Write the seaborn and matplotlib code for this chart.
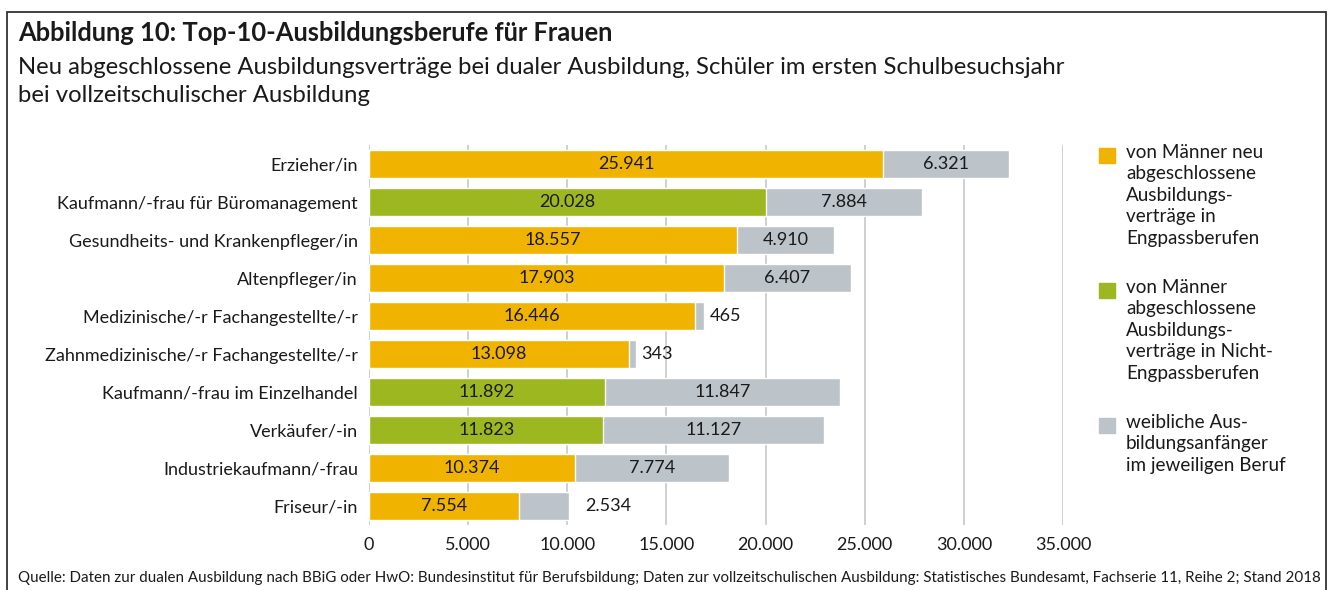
import pandas as pd
import seaborn as sns
import matplotlib.pyplot as plt
from matplotlib.patches import Rectangle

berufe = ["Erzieher/in", "Kaufmann/-frau für Büromanagement",
          "Gesundheits- und Krankenpfleger/in", "Altenpfleger/in",
          "Medizinische/-r Fachangestellte/-r", "Zahnmedizinische/-r Fachangestellte/-r",
          "Kaufmann/-frau im Einzelhandel", "Verkäufer/-in",
          "Industriekaufmann/-frau", "Friseur/-in"]
maenner = [25941, 20028, 18557, 17903, 16446, 13098, 11892, 11823, 10374, 7554]
frauen = [6321, 7884, 4910, 6407, 465, 343, 11847, 11127, 7774, 2534]
typ = ["Engpass", "Nicht-Engpass", "Engpass", "Engpass", "Engpass",
       "Engpass", "Nicht-Engpass", "Nicht-Engpass", "Engpass", "Engpass"]
legende = ["von Männer neu\nabgeschlossene\nAusbildungs-\nverträge in\nEngpassberufen",
           "von Männer\nabgeschlossene\nAusbildungs-\nverträge in Nicht-\nEngpassberufen",
           "weibliche Aus-\nbildungsanfänger\nim jeweiligen Beruf"]
ticks = [0, 5000, 10000, 15000, 20000, 25000, 30000, 35000]

orange = "#F0B400"
gruen = "#9CB71F"
grau = "#BCC3C9"
txt = "#1a1a1a"

df = pd.DataFrame({"beruf": berufe, "maenner": maenner, "frauen": frauen, "typ": typ})
df["gesamt"] = df["maenner"] + df["frauen"]

sns.set_style("white")
plt.rcParams["font.family"] = ["Lato", "DejaVu Sans"]
plt.rcParams["text.color"] = txt

def fmt(v):
    return f"{v:,}".replace(",", ".")

fig = plt.figure(figsize=(13.3, 5.9), dpi=100)
ax = fig.add_axes([369 / 1330, 1 - 525 / 590, (1063 - 369) / 1330, 380 / 590])

for t in ticks:
    ax.axvline(t, color="#C8CDD2", lw=1.3, zorder=0)

sns.barplot(data=df, x="gesamt", y="beruf", color=grau, width=0.76,
            saturation=1, ax=ax, zorder=2)
sns.barplot(data=df, x="maenner", y="beruf", hue="typ", dodge=False,
            palette={"Engpass": orange, "Nicht-Engpass": gruen}, width=0.76,
            saturation=1, ax=ax, legend=False, zorder=3)

for i, row in df.iterrows():
    ax.text(row["maenner"] / 2, i, fmt(row["maenner"]), ha="center", va="center",
            fontsize=13, color=txt, zorder=4)
    if row["frauen"] > 3000:
        ax.text(row["maenner"] + row["frauen"] / 2, i, fmt(row["frauen"]),
                ha="center", va="center", fontsize=13, color=txt, zorder=4)
    else:
        off = 12 if row["frauen"] > 1000 else 4
        ax.annotate(fmt(row["frauen"]), (row["gesamt"], i), xytext=(off, 0),
                    textcoords="offset points", ha="left", va="center",
                    fontsize=13, color=txt, zorder=4)

ax.set_xlim(0, 35000)
ax.set_ylim(9.5, -0.5)
ax.set_xticks(ticks)
ax.set_xticklabels([fmt(t) for t in ticks])
ax.set_xlabel("")
ax.set_ylabel("")
ax.tick_params(axis="both", length=0, labelsize=13, colors=txt)
ax.tick_params(axis="y", pad=8)
ax.tick_params(axis="x", pad=9)
sns.despine(ax=ax, left=True, bottom=True)

# Legende rechts
farben = [orange, gruen, grau]
ytop = [155, 290, 425]
for f, lab, y in zip(farben, legende, ytop):
    fig.patches.append(Rectangle((1099 / 1330, 1 - (y + 8) / 590), 16 / 1330, 15 / 590,
                                 transform=fig.transFigure, color=f))
    fig.text(1126 / 1330, 1 - (y - 11) / 590, lab, ha="left", va="top",
             fontsize=13.6, linespacing=1.32, color=txt)

# Titel
fig.text(18 / 1330, 1 - 33 / 590, "Abbildung 10: Top-10-Ausbildungsberufe für Frauen",
         ha="left", va="center", fontsize=18.4, fontweight="bold", color=txt)
fig.text(18 / 1330, 1 - 67 / 590,
         "Neu abgeschlossene Ausbildungsverträge bei dualer Ausbildung, Schüler im ersten Schulbesuchsjahr",
         ha="left", va="center", fontsize=17.2, color=txt)
fig.text(18 / 1330, 1 - 96 / 590, "bei vollzeitschulischer Ausbildung",
         ha="left", va="center", fontsize=17.2, color=txt)
fig.text(18 / 1330, 1 - 578 / 590,
         "Quelle: Daten zur dualen Ausbildung nach BBiG oder HwO: Bundesinstitut für Berufsbildung; Daten zur vollzeitschulischen Ausbildung: Statistisches Bundesamt, Fachserie 11, Reihe 2; Stand 2018",
         ha="left", va="center", fontsize=10.9, color=txt)

# Rahmen
fig.patches.append(Rectangle((7 / 1330, -0.05), (1326 - 7) / 1330, 1.05 - 12 / 590,
                             transform=fig.transFigure, fill=False,
                             edgecolor="#333333", lw=1.3))

fig.savefig("out.png", dpi=100)
